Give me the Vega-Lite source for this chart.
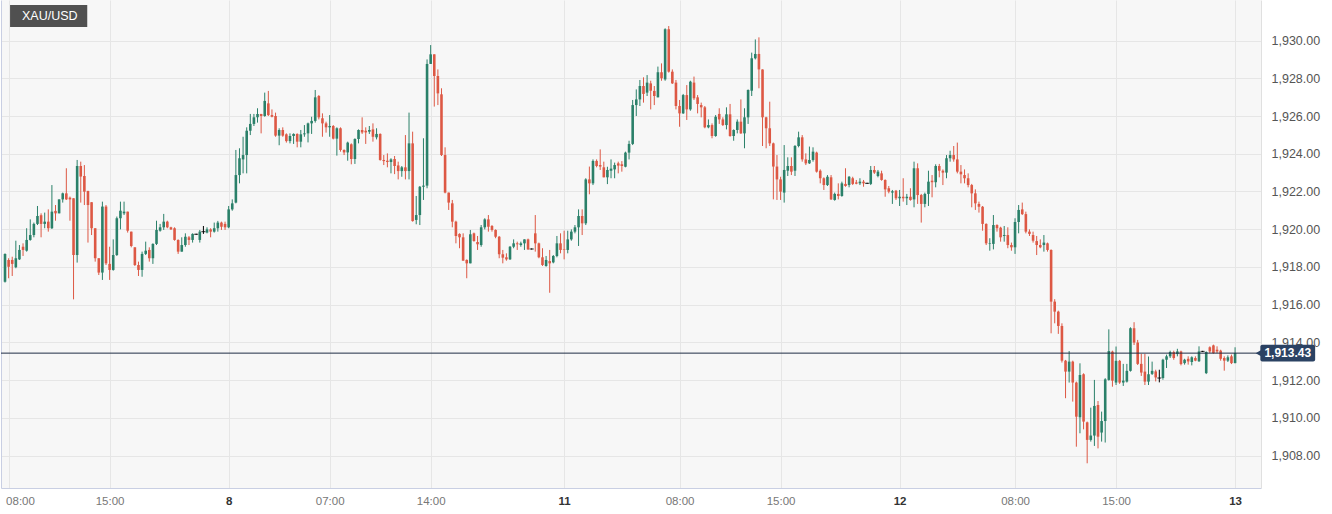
{
"$schema": "https://vega.github.io/schema/vega-lite/v6.json",
"width": 1260, "height": 488,
"autosize": {"type": "none"},
"padding": {"left": 1, "top": 0, "right": 71, "bottom": 26},
"background": "#ffffff",
"config": {"view": {"fill": "#f7f7f7", "stroke": null}, "font": "Liberation Sans"},
"datasets": {"candles": [
{"i":0,"o":1917.22,"h":1918.72,"l":1917.17,"c":1918.69},
{"i":1,"o":1918.37,"h":1918.46,"l":1917.40,"c":1918.01},
{"i":2,"o":1918.37,"h":1918.54,"l":1917.52,"c":1918.16},
{"i":3,"o":1917.98,"h":1919.39,"l":1917.93,"c":1918.46},
{"i":4,"o":1918.40,"h":1919.16,"l":1918.37,"c":1918.90},
{"i":5,"o":1919.07,"h":1919.25,"l":1918.58,"c":1918.90},
{"i":6,"o":1918.86,"h":1920.05,"l":1918.81,"c":1919.43},
{"i":7,"o":1919.43,"h":1920.52,"l":1919.39,"c":1919.69},
{"i":8,"o":1919.69,"h":1920.35,"l":1919.57,"c":1920.28},
{"i":9,"o":1920.28,"h":1921.23,"l":1920.22,"c":1920.70},
{"i":10,"o":1920.74,"h":1920.84,"l":1919.57,"c":1920.28},
{"i":11,"o":1920.28,"h":1920.88,"l":1920.05,"c":1920.40},
{"i":12,"o":1920.40,"h":1921.05,"l":1919.87,"c":1920.05},
{"i":13,"o":1920.05,"h":1922.34,"l":1920.01,"c":1920.93},
{"i":14,"o":1920.97,"h":1921.28,"l":1920.45,"c":1920.84},
{"i":15,"o":1920.84,"h":1921.58,"l":1920.84,"c":1921.58},
{"i":16,"o":1921.58,"h":1921.94,"l":1921.41,"c":1921.90},
{"i":17,"o":1921.90,"h":1923.23,"l":1921.55,"c":1921.58},
{"i":18,"o":1921.67,"h":1921.73,"l":1920.45,"c":1921.58},
{"i":19,"o":1921.64,"h":1921.64,"l":1916.28,"c":1918.63},
{"i":20,"o":1918.63,"h":1923.67,"l":1918.23,"c":1923.35},
{"i":21,"o":1923.35,"h":1923.58,"l":1921.41,"c":1922.79},
{"i":22,"o":1922.82,"h":1923.40,"l":1921.28,"c":1921.99},
{"i":23,"o":1922.03,"h":1922.03,"l":1919.29,"c":1921.28},
{"i":24,"o":1921.43,"h":1921.43,"l":1919.69,"c":1920.05},
{"i":25,"o":1920.05,"h":1920.05,"l":1918.28,"c":1918.46},
{"i":26,"o":1918.46,"h":1918.46,"l":1917.57,"c":1917.70},
{"i":27,"o":1917.70,"h":1921.46,"l":1917.31,"c":1921.20},
{"i":28,"o":1921.20,"h":1921.28,"l":1918.10,"c":1918.19},
{"i":29,"o":1918.16,"h":1919.07,"l":1917.31,"c":1917.84},
{"i":30,"o":1917.84,"h":1919.46,"l":1917.80,"c":1918.63},
{"i":31,"o":1918.63,"h":1920.67,"l":1918.58,"c":1920.58},
{"i":32,"o":1920.58,"h":1921.46,"l":1919.99,"c":1920.98},
{"i":33,"o":1920.84,"h":1921.46,"l":1920.75,"c":1920.93},
{"i":34,"o":1920.93,"h":1920.93,"l":1919.82,"c":1919.92},
{"i":35,"o":1919.87,"h":1919.87,"l":1919.04,"c":1919.11},
{"i":36,"o":1919.04,"h":1919.04,"l":1918.05,"c":1918.10},
{"i":37,"o":1918.10,"h":1918.28,"l":1917.52,"c":1917.84},
{"i":38,"o":1917.84,"h":1918.81,"l":1917.48,"c":1918.69},
{"i":39,"o":1918.69,"h":1919.34,"l":1918.63,"c":1918.86},
{"i":40,"o":1918.90,"h":1919.04,"l":1918.28,"c":1918.46},
{"i":41,"o":1918.46,"h":1919.25,"l":1918.16,"c":1919.22},
{"i":42,"o":1919.22,"h":1920.45,"l":1919.16,"c":1919.96},
{"i":43,"o":1919.92,"h":1920.28,"l":1919.87,"c":1920.10},
{"i":44,"o":1920.10,"h":1920.81,"l":1919.96,"c":1920.40},
{"i":45,"o":1920.40,"h":1920.45,"l":1920.05,"c":1920.10},
{"i":46,"o":1920.10,"h":1920.13,"l":1919.96,"c":1919.99},
{"i":47,"o":1920.05,"h":1920.10,"l":1919.39,"c":1919.43},
{"i":48,"o":1919.43,"h":1919.46,"l":1918.69,"c":1918.81},
{"i":49,"o":1918.81,"h":1919.57,"l":1918.81,"c":1919.16},
{"i":50,"o":1919.16,"h":1919.78,"l":1919.07,"c":1919.60},
{"i":51,"o":1919.57,"h":1919.64,"l":1919.16,"c":1919.43},
{"i":52,"o":1919.43,"h":1919.78,"l":1919.29,"c":1919.75},
{"i":53,"o":1919.73,"h":1919.76,"l":1919.70,"c":1919.73},
{"i":54,"o":1919.43,"h":1919.96,"l":1919.29,"c":1919.87},
{"i":55,"o":1919.87,"h":1920.17,"l":1919.75,"c":1919.87},
{"i":56,"o":1919.82,"h":1920.10,"l":1919.78,"c":1919.99},
{"i":57,"o":1919.99,"h":1920.05,"l":1919.57,"c":1919.87},
{"i":58,"o":1919.87,"h":1920.35,"l":1919.82,"c":1920.05},
{"i":59,"o":1920.05,"h":1920.44,"l":1919.87,"c":1920.35},
{"i":60,"o":1920.35,"h":1920.40,"l":1919.96,"c":1920.13},
{"i":61,"o":1920.28,"h":1920.40,"l":1919.96,"c":1920.10},
{"i":62,"o":1920.10,"h":1921.23,"l":1920.05,"c":1921.05},
{"i":63,"o":1921.05,"h":1921.58,"l":1920.98,"c":1921.37},
{"i":64,"o":1921.41,"h":1924.20,"l":1921.37,"c":1922.87},
{"i":65,"o":1922.87,"h":1924.29,"l":1922.43,"c":1923.76},
{"i":66,"o":1923.70,"h":1924.90,"l":1922.96,"c":1923.93},
{"i":67,"o":1923.93,"h":1925.40,"l":1922.96,"c":1925.22},
{"i":68,"o":1925.22,"h":1926.11,"l":1924.99,"c":1925.58},
{"i":69,"o":1925.58,"h":1926.11,"l":1925.47,"c":1925.93},
{"i":70,"o":1925.93,"h":1926.41,"l":1925.65,"c":1926.11},
{"i":71,"o":1926.11,"h":1926.11,"l":1925.08,"c":1926.00},
{"i":72,"o":1926.00,"h":1927.24,"l":1925.96,"c":1926.80},
{"i":73,"o":1926.67,"h":1927.33,"l":1926.00,"c":1926.05},
{"i":74,"o":1926.05,"h":1926.35,"l":1925.93,"c":1925.96},
{"i":75,"o":1926.00,"h":1926.18,"l":1924.90,"c":1924.96},
{"i":76,"o":1924.96,"h":1925.35,"l":1924.45,"c":1925.26},
{"i":77,"o":1925.26,"h":1925.40,"l":1924.90,"c":1924.96},
{"i":78,"o":1925.03,"h":1925.08,"l":1924.59,"c":1924.67},
{"i":79,"o":1924.67,"h":1925.08,"l":1924.55,"c":1924.94},
{"i":80,"o":1924.94,"h":1925.08,"l":1924.52,"c":1925.05},
{"i":81,"o":1925.05,"h":1925.08,"l":1924.34,"c":1924.64},
{"i":82,"o":1924.64,"h":1925.26,"l":1924.34,"c":1925.03},
{"i":83,"o":1925.03,"h":1925.52,"l":1924.90,"c":1925.08},
{"i":84,"o":1925.08,"h":1925.65,"l":1924.60,"c":1925.61},
{"i":85,"o":1925.61,"h":1925.96,"l":1925.05,"c":1925.74},
{"i":86,"o":1925.74,"h":1927.38,"l":1925.65,"c":1926.99},
{"i":87,"o":1927.06,"h":1927.11,"l":1925.82,"c":1925.93},
{"i":88,"o":1925.88,"h":1926.14,"l":1924.90,"c":1925.61},
{"i":89,"o":1925.61,"h":1925.70,"l":1925.12,"c":1925.40},
{"i":90,"o":1925.40,"h":1926.05,"l":1924.90,"c":1925.47},
{"i":91,"o":1925.47,"h":1925.52,"l":1924.76,"c":1924.80},
{"i":92,"o":1924.80,"h":1925.40,"l":1923.90,"c":1925.35},
{"i":93,"o":1925.35,"h":1925.40,"l":1924.11,"c":1924.20},
{"i":94,"o":1924.20,"h":1924.23,"l":1923.93,"c":1924.07},
{"i":95,"o":1924.07,"h":1924.64,"l":1923.63,"c":1924.59},
{"i":96,"o":1924.50,"h":1924.55,"l":1923.44,"c":1923.72},
{"i":97,"o":1923.72,"h":1924.82,"l":1923.46,"c":1924.78},
{"i":98,"o":1924.78,"h":1925.29,"l":1924.55,"c":1925.26},
{"i":99,"o":1925.26,"h":1925.93,"l":1925.05,"c":1925.13},
{"i":100,"o":1925.22,"h":1925.40,"l":1924.52,"c":1925.13},
{"i":101,"o":1925.17,"h":1925.47,"l":1925.05,"c":1925.26},
{"i":102,"o":1925.29,"h":1925.61,"l":1924.64,"c":1924.90},
{"i":103,"o":1924.87,"h":1925.35,"l":1924.76,"c":1925.05},
{"i":104,"o":1925.05,"h":1925.08,"l":1923.63,"c":1923.67},
{"i":105,"o":1923.67,"h":1923.93,"l":1923.40,"c":1923.61},
{"i":106,"o":1923.63,"h":1924.02,"l":1923.28,"c":1923.56},
{"i":107,"o":1923.56,"h":1923.76,"l":1922.96,"c":1923.70},
{"i":108,"o":1923.72,"h":1923.88,"l":1922.92,"c":1923.35},
{"i":109,"o":1923.38,"h":1923.58,"l":1922.64,"c":1923.08},
{"i":110,"o":1923.08,"h":1923.35,"l":1922.78,"c":1923.28},
{"i":111,"o":1923.28,"h":1924.99,"l":1922.64,"c":1923.08},
{"i":112,"o":1923.08,"h":1926.18,"l":1922.64,"c":1924.55},
{"i":113,"o":1924.55,"h":1925.17,"l":1920.40,"c":1920.43},
{"i":114,"o":1920.49,"h":1921.76,"l":1920.26,"c":1920.75},
{"i":115,"o":1920.75,"h":1922.29,"l":1920.22,"c":1922.25},
{"i":116,"o":1922.25,"h":1924.82,"l":1921.55,"c":1922.31},
{"i":117,"o":1922.31,"h":1929.00,"l":1922.17,"c":1928.76},
{"i":118,"o":1928.76,"h":1929.76,"l":1928.76,"c":1929.27},
{"i":119,"o":1929.27,"h":1929.27,"l":1926.50,"c":1928.12},
{"i":120,"o":1928.12,"h":1928.47,"l":1926.58,"c":1927.20},
{"i":121,"o":1927.15,"h":1927.47,"l":1923.88,"c":1923.93},
{"i":122,"o":1923.93,"h":1924.34,"l":1921.90,"c":1921.94},
{"i":123,"o":1921.94,"h":1921.94,"l":1921.02,"c":1921.41},
{"i":124,"o":1921.37,"h":1921.55,"l":1920.10,"c":1920.40},
{"i":125,"o":1920.40,"h":1920.45,"l":1919.25,"c":1919.64},
{"i":126,"o":1919.75,"h":1919.78,"l":1918.99,"c":1919.57},
{"i":127,"o":1919.57,"h":1919.78,"l":1918.33,"c":1918.33},
{"i":128,"o":1918.37,"h":1918.40,"l":1917.40,"c":1918.19},
{"i":129,"o":1918.19,"h":1919.96,"l":1918.19,"c":1919.73},
{"i":130,"o":1919.78,"h":1919.82,"l":1919.34,"c":1919.37},
{"i":131,"o":1919.32,"h":1919.64,"l":1918.90,"c":1919.20},
{"i":132,"o":1919.16,"h":1920.22,"l":1919.07,"c":1920.10},
{"i":133,"o":1920.10,"h":1920.58,"l":1919.99,"c":1920.52},
{"i":134,"o":1920.52,"h":1920.75,"l":1919.87,"c":1920.13},
{"i":135,"o":1920.17,"h":1920.22,"l":1919.87,"c":1919.96},
{"i":136,"o":1919.96,"h":1919.99,"l":1919.52,"c":1919.60},
{"i":137,"o":1919.60,"h":1919.64,"l":1918.46,"c":1918.67},
{"i":138,"o":1918.67,"h":1918.90,"l":1918.19,"c":1918.49},
{"i":139,"o":1918.51,"h":1918.72,"l":1918.33,"c":1918.40},
{"i":140,"o":1918.40,"h":1919.11,"l":1918.37,"c":1919.07},
{"i":141,"o":1919.07,"h":1919.46,"l":1918.99,"c":1919.25},
{"i":142,"o":1919.25,"h":1919.34,"l":1918.90,"c":1919.20},
{"i":143,"o":1919.16,"h":1919.34,"l":1919.07,"c":1919.25},
{"i":144,"o":1919.25,"h":1919.46,"l":1918.90,"c":1919.46},
{"i":145,"o":1919.46,"h":1919.50,"l":1918.90,"c":1918.93},
{"i":146,"o":1918.95,"h":1918.98,"l":1918.92,"c":1918.95},
{"i":147,"o":1919.78,"h":1920.75,"l":1918.81,"c":1919.25},
{"i":148,"o":1919.25,"h":1919.29,"l":1918.46,"c":1918.51},
{"i":149,"o":1918.51,"h":1918.99,"l":1918.05,"c":1918.10},
{"i":150,"o":1918.05,"h":1918.58,"l":1918.01,"c":1918.37},
{"i":151,"o":1918.31,"h":1918.90,"l":1916.63,"c":1918.19},
{"i":152,"o":1918.24,"h":1918.63,"l":1918.19,"c":1918.58},
{"i":153,"o":1918.58,"h":1919.64,"l":1918.51,"c":1919.25},
{"i":154,"o":1919.25,"h":1919.78,"l":1918.72,"c":1918.90},
{"i":155,"o":1918.93,"h":1919.92,"l":1918.40,"c":1918.90},
{"i":156,"o":1918.90,"h":1919.92,"l":1918.72,"c":1919.46},
{"i":157,"o":1919.46,"h":1919.99,"l":1919.39,"c":1919.87},
{"i":158,"o":1919.87,"h":1920.22,"l":1919.78,"c":1920.10},
{"i":159,"o":1920.10,"h":1921.05,"l":1919.11,"c":1920.70},
{"i":160,"o":1920.70,"h":1921.05,"l":1919.69,"c":1920.31},
{"i":161,"o":1920.31,"h":1922.70,"l":1920.22,"c":1922.64},
{"i":162,"o":1922.64,"h":1923.32,"l":1921.85,"c":1922.43},
{"i":163,"o":1922.43,"h":1923.70,"l":1922.34,"c":1923.62},
{"i":164,"o":1923.62,"h":1923.70,"l":1923.28,"c":1923.35},
{"i":165,"o":1923.40,"h":1924.23,"l":1923.14,"c":1923.32},
{"i":166,"o":1923.28,"h":1923.58,"l":1922.75,"c":1922.75},
{"i":167,"o":1922.75,"h":1923.31,"l":1922.39,"c":1923.14},
{"i":168,"o":1923.10,"h":1923.70,"l":1922.70,"c":1923.21},
{"i":169,"o":1923.17,"h":1923.53,"l":1922.70,"c":1923.40},
{"i":170,"o":1923.49,"h":1923.58,"l":1922.96,"c":1923.37},
{"i":171,"o":1923.44,"h":1923.61,"l":1923.05,"c":1923.35},
{"i":172,"o":1923.31,"h":1924.11,"l":1923.28,"c":1924.06},
{"i":173,"o":1924.06,"h":1924.69,"l":1923.70,"c":1924.52},
{"i":174,"o":1924.52,"h":1926.85,"l":1924.46,"c":1926.58},
{"i":175,"o":1926.58,"h":1927.41,"l":1926.00,"c":1926.88},
{"i":176,"o":1926.88,"h":1927.91,"l":1926.53,"c":1927.59},
{"i":177,"o":1927.59,"h":1928.05,"l":1926.71,"c":1927.17},
{"i":178,"o":1927.24,"h":1928.17,"l":1927.06,"c":1927.77},
{"i":179,"o":1927.73,"h":1927.87,"l":1926.35,"c":1927.34},
{"i":180,"o":1927.33,"h":1927.59,"l":1926.58,"c":1927.06},
{"i":181,"o":1926.99,"h":1928.62,"l":1926.99,"c":1928.32},
{"i":182,"o":1928.32,"h":1928.79,"l":1927.87,"c":1928.00},
{"i":183,"o":1927.94,"h":1930.65,"l":1927.87,"c":1930.60},
{"i":184,"o":1930.60,"h":1930.77,"l":1928.30,"c":1928.35},
{"i":185,"o":1928.35,"h":1928.47,"l":1927.70,"c":1927.73},
{"i":186,"o":1927.77,"h":1927.91,"l":1926.35,"c":1926.53},
{"i":187,"o":1926.53,"h":1926.85,"l":1925.43,"c":1926.14},
{"i":188,"o":1926.14,"h":1927.17,"l":1926.11,"c":1927.11},
{"i":189,"o":1927.11,"h":1927.64,"l":1925.79,"c":1926.35},
{"i":190,"o":1926.35,"h":1927.87,"l":1926.28,"c":1927.82},
{"i":191,"o":1927.77,"h":1928.09,"l":1926.85,"c":1926.94},
{"i":192,"o":1926.99,"h":1927.11,"l":1926.14,"c":1926.64},
{"i":193,"o":1926.58,"h":1926.71,"l":1925.93,"c":1926.46},
{"i":194,"o":1926.46,"h":1926.53,"l":1925.35,"c":1925.40},
{"i":195,"o":1925.40,"h":1925.82,"l":1925.35,"c":1925.52},
{"i":196,"o":1925.52,"h":1925.61,"l":1924.82,"c":1924.94},
{"i":197,"o":1924.94,"h":1926.05,"l":1924.90,"c":1925.96},
{"i":198,"o":1926.11,"h":1926.41,"l":1925.58,"c":1925.82},
{"i":199,"o":1925.82,"h":1925.93,"l":1925.47,"c":1925.52},
{"i":200,"o":1925.52,"h":1926.46,"l":1925.29,"c":1926.09},
{"i":201,"o":1926.09,"h":1926.64,"l":1924.90,"c":1924.94},
{"i":202,"o":1924.94,"h":1925.29,"l":1924.69,"c":1925.26},
{"i":203,"o":1925.26,"h":1925.82,"l":1925.08,"c":1925.70},
{"i":204,"o":1925.70,"h":1926.88,"l":1925.05,"c":1925.08},
{"i":205,"o":1925.08,"h":1926.41,"l":1924.29,"c":1925.93},
{"i":206,"o":1925.93,"h":1927.41,"l":1925.58,"c":1927.38},
{"i":207,"o":1927.34,"h":1929.36,"l":1927.06,"c":1929.06},
{"i":208,"o":1929.06,"h":1930.06,"l":1929.00,"c":1929.29},
{"i":209,"o":1929.29,"h":1930.17,"l":1927.47,"c":1928.47},
{"i":210,"o":1928.47,"h":1928.47,"l":1924.41,"c":1925.93},
{"i":211,"o":1925.93,"h":1925.96,"l":1924.29,"c":1925.35},
{"i":212,"o":1925.35,"h":1926.76,"l":1924.41,"c":1924.55},
{"i":213,"o":1924.55,"h":1924.59,"l":1921.58,"c":1923.32},
{"i":214,"o":1923.32,"h":1923.93,"l":1921.55,"c":1922.64},
{"i":215,"o":1922.64,"h":1922.78,"l":1921.55,"c":1921.99},
{"i":216,"o":1921.94,"h":1924.46,"l":1921.41,"c":1923.14},
{"i":217,"o":1923.10,"h":1923.81,"l":1922.82,"c":1923.35},
{"i":218,"o":1923.35,"h":1923.81,"l":1922.87,"c":1923.05},
{"i":219,"o":1923.10,"h":1924.46,"l":1922.82,"c":1924.41},
{"i":220,"o":1924.41,"h":1925.17,"l":1924.34,"c":1924.87},
{"i":221,"o":1924.87,"h":1924.99,"l":1923.58,"c":1923.70},
{"i":222,"o":1923.70,"h":1924.02,"l":1923.40,"c":1923.49},
{"i":223,"o":1923.49,"h":1924.38,"l":1923.46,"c":1923.67},
{"i":224,"o":1923.67,"h":1924.34,"l":1923.58,"c":1924.11},
{"i":225,"o":1924.06,"h":1924.11,"l":1923.00,"c":1923.05},
{"i":226,"o":1923.10,"h":1923.17,"l":1922.43,"c":1922.70},
{"i":227,"o":1922.70,"h":1922.75,"l":1922.08,"c":1922.34},
{"i":228,"o":1922.34,"h":1922.87,"l":1922.29,"c":1922.78},
{"i":229,"o":1922.75,"h":1922.87,"l":1921.55,"c":1921.58},
{"i":230,"o":1921.55,"h":1921.94,"l":1921.51,"c":1921.87},
{"i":231,"o":1921.87,"h":1922.43,"l":1921.58,"c":1921.76},
{"i":232,"o":1921.76,"h":1922.52,"l":1921.72,"c":1922.43},
{"i":233,"o":1922.40,"h":1923.23,"l":1922.25,"c":1922.29},
{"i":234,"o":1922.34,"h":1922.82,"l":1922.22,"c":1922.78},
{"i":235,"o":1922.70,"h":1922.78,"l":1922.34,"c":1922.40},
{"i":236,"o":1922.48,"h":1922.61,"l":1922.38,"c":1922.41},
{"i":237,"o":1922.43,"h":1922.70,"l":1922.34,"c":1922.52},
{"i":238,"o":1922.52,"h":1922.61,"l":1922.25,"c":1922.43},
{"i":239,"o":1922.43,"h":1922.46,"l":1922.40,"c":1922.43},
{"i":240,"o":1922.40,"h":1923.35,"l":1922.34,"c":1923.14},
{"i":241,"o":1923.14,"h":1923.35,"l":1922.93,"c":1923.00},
{"i":242,"o":1922.82,"h":1923.14,"l":1922.75,"c":1923.05},
{"i":243,"o":1922.96,"h":1923.10,"l":1922.57,"c":1922.61},
{"i":244,"o":1922.61,"h":1922.64,"l":1921.72,"c":1922.11},
{"i":245,"o":1922.17,"h":1922.29,"l":1921.90,"c":1921.99},
{"i":246,"o":1921.94,"h":1922.08,"l":1921.34,"c":1922.01},
{"i":247,"o":1922.04,"h":1922.08,"l":1921.55,"c":1921.64},
{"i":248,"o":1921.64,"h":1922.08,"l":1921.23,"c":1921.72},
{"i":249,"o":1921.72,"h":1922.70,"l":1921.46,"c":1921.64},
{"i":250,"o":1921.64,"h":1921.87,"l":1921.28,"c":1921.72},
{"i":251,"o":1921.72,"h":1922.17,"l":1921.51,"c":1921.55},
{"i":252,"o":1921.58,"h":1923.58,"l":1921.16,"c":1923.23},
{"i":253,"o":1923.23,"h":1923.49,"l":1921.34,"c":1921.81},
{"i":254,"o":1921.81,"h":1921.87,"l":1920.35,"c":1921.34},
{"i":255,"o":1921.34,"h":1921.94,"l":1921.16,"c":1921.87},
{"i":256,"o":1921.87,"h":1923.10,"l":1921.23,"c":1922.52},
{"i":257,"o":1922.57,"h":1922.87,"l":1921.69,"c":1922.49},
{"i":258,"o":1922.49,"h":1923.44,"l":1922.22,"c":1923.35},
{"i":259,"o":1923.35,"h":1923.46,"l":1922.75,"c":1923.10},
{"i":260,"o":1923.10,"h":1923.17,"l":1922.34,"c":1923.00},
{"i":261,"o":1923.00,"h":1923.93,"l":1922.70,"c":1923.76},
{"i":262,"o":1923.76,"h":1924.16,"l":1923.58,"c":1923.93},
{"i":263,"o":1923.93,"h":1924.41,"l":1923.58,"c":1923.70},
{"i":264,"o":1923.70,"h":1924.59,"l":1922.96,"c":1923.05},
{"i":265,"o":1923.05,"h":1923.40,"l":1922.43,"c":1922.91},
{"i":266,"o":1922.87,"h":1923.17,"l":1922.43,"c":1922.70},
{"i":267,"o":1922.70,"h":1922.96,"l":1922.22,"c":1922.34},
{"i":268,"o":1922.34,"h":1922.40,"l":1921.16,"c":1921.90},
{"i":269,"o":1921.90,"h":1922.11,"l":1921.02,"c":1921.37},
{"i":270,"o":1921.34,"h":1921.46,"l":1920.88,"c":1921.19},
{"i":271,"o":1921.19,"h":1921.23,"l":1919.92,"c":1920.28},
{"i":272,"o":1920.28,"h":1920.31,"l":1919.16,"c":1919.25},
{"i":273,"o":1919.22,"h":1919.52,"l":1918.86,"c":1919.25},
{"i":274,"o":1919.22,"h":1920.75,"l":1918.93,"c":1920.22},
{"i":275,"o":1920.22,"h":1920.26,"l":1919.87,"c":1920.05},
{"i":276,"o":1920.08,"h":1920.13,"l":1919.34,"c":1919.57},
{"i":277,"o":1919.64,"h":1920.17,"l":1919.34,"c":1919.69},
{"i":278,"o":1919.69,"h":1920.10,"l":1918.99,"c":1919.16},
{"i":279,"o":1919.16,"h":1919.29,"l":1918.86,"c":1919.04},
{"i":280,"o":1919.04,"h":1920.58,"l":1918.69,"c":1920.38},
{"i":281,"o":1920.38,"h":1921.28,"l":1919.78,"c":1921.02},
{"i":282,"o":1921.05,"h":1921.41,"l":1920.75,"c":1920.80},
{"i":283,"o":1920.80,"h":1920.93,"l":1919.78,"c":1919.87},
{"i":284,"o":1919.87,"h":1919.99,"l":1919.64,"c":1919.75},
{"i":285,"o":1919.69,"h":1919.87,"l":1919.29,"c":1919.39},
{"i":286,"o":1919.37,"h":1919.64,"l":1918.63,"c":1919.16},
{"i":287,"o":1919.16,"h":1919.46,"l":1918.99,"c":1919.04},
{"i":288,"o":1919.16,"h":1919.69,"l":1918.81,"c":1919.29},
{"i":289,"o":1919.25,"h":1919.29,"l":1918.81,"c":1918.90},
{"i":290,"o":1918.90,"h":1918.93,"l":1914.48,"c":1916.16},
{"i":291,"o":1916.16,"h":1916.29,"l":1915.01,"c":1915.63},
{"i":292,"o":1915.63,"h":1915.68,"l":1914.45,"c":1914.87},
{"i":293,"o":1914.87,"h":1915.01,"l":1912.93,"c":1913.03},
{"i":294,"o":1913.03,"h":1913.07,"l":1911.04,"c":1912.45},
{"i":295,"o":1912.45,"h":1913.54,"l":1911.87,"c":1912.98},
{"i":296,"o":1912.98,"h":1913.03,"l":1910.86,"c":1911.87},
{"i":297,"o":1911.87,"h":1911.92,"l":1908.47,"c":1910.06},
{"i":298,"o":1910.03,"h":1912.89,"l":1909.18,"c":1912.27},
{"i":299,"o":1912.31,"h":1912.36,"l":1909.39,"c":1909.80},
{"i":300,"o":1909.76,"h":1909.80,"l":1907.59,"c":1908.83},
{"i":301,"o":1908.83,"h":1910.54,"l":1908.74,"c":1909.06},
{"i":302,"o":1909.06,"h":1912.01,"l":1908.51,"c":1910.63},
{"i":303,"o":1910.68,"h":1910.89,"l":1908.38,"c":1909.00},
{"i":304,"o":1909.22,"h":1910.33,"l":1908.74,"c":1909.83},
{"i":305,"o":1909.83,"h":1912.10,"l":1908.69,"c":1912.04},
{"i":306,"o":1912.01,"h":1914.69,"l":1911.97,"c":1913.54},
{"i":307,"o":1913.51,"h":1913.56,"l":1911.65,"c":1911.97},
{"i":308,"o":1911.87,"h":1913.78,"l":1911.74,"c":1913.02},
{"i":309,"o":1913.02,"h":1913.07,"l":1911.80,"c":1911.87},
{"i":310,"o":1911.87,"h":1912.86,"l":1911.69,"c":1911.97},
{"i":311,"o":1911.92,"h":1912.86,"l":1911.87,"c":1912.49},
{"i":312,"o":1912.49,"h":1914.80,"l":1912.45,"c":1914.75},
{"i":313,"o":1914.75,"h":1915.07,"l":1913.86,"c":1913.99},
{"i":314,"o":1913.99,"h":1914.13,"l":1912.80,"c":1912.86},
{"i":315,"o":1912.86,"h":1913.39,"l":1912.22,"c":1912.40},
{"i":316,"o":1912.45,"h":1913.39,"l":1911.74,"c":1911.92},
{"i":317,"o":1911.92,"h":1913.25,"l":1911.74,"c":1912.31},
{"i":318,"o":1912.33,"h":1912.98,"l":1912.27,"c":1912.49},
{"i":319,"o":1912.46,"h":1912.55,"l":1911.93,"c":1912.14},
{"i":320,"o":1912.11,"h":1912.55,"l":1911.88,"c":1912.11},
{"i":321,"o":1912.11,"h":1913.13,"l":1912.02,"c":1913.08},
{"i":322,"o":1913.08,"h":1913.35,"l":1912.64,"c":1913.26},
{"i":323,"o":1913.26,"h":1913.56,"l":1913.17,"c":1913.49},
{"i":324,"o":1913.49,"h":1913.56,"l":1913.08,"c":1913.17},
{"i":325,"o":1913.38,"h":1913.66,"l":1913.26,"c":1913.52},
{"i":326,"o":1913.52,"h":1913.56,"l":1912.78,"c":1912.85},
{"i":327,"o":1912.90,"h":1913.13,"l":1912.82,"c":1913.08},
{"i":328,"o":1913.13,"h":1913.26,"l":1912.82,"c":1912.99},
{"i":329,"o":1912.96,"h":1913.26,"l":1912.78,"c":1913.21},
{"i":330,"o":1913.17,"h":1913.26,"l":1913.00,"c":1913.03},
{"i":331,"o":1913.00,"h":1913.79,"l":1912.96,"c":1913.52},
{"i":332,"o":1913.52,"h":1913.55,"l":1913.49,"c":1913.52},
{"i":333,"o":1912.37,"h":1913.52,"l":1912.32,"c":1913.49},
{"i":334,"o":1913.74,"h":1913.79,"l":1913.43,"c":1913.52},
{"i":335,"o":1913.84,"h":1913.88,"l":1913.40,"c":1913.43},
{"i":336,"o":1913.61,"h":1913.79,"l":1913.43,"c":1913.52},
{"i":337,"o":1913.56,"h":1913.61,"l":1913.03,"c":1913.13},
{"i":338,"o":1913.17,"h":1913.26,"l":1912.50,"c":1913.03},
{"i":339,"o":1913.03,"h":1913.31,"l":1912.96,"c":1913.21},
{"i":340,"o":1913.26,"h":1913.35,"l":1912.85,"c":1912.90},
{"i":341,"o":1912.90,"h":1913.74,"l":1912.89,"c":1913.43}
],
"one": [{"p": 1913.43}]},
"layer": [
{
"data": {"name": "candles"},
"mark": {"type": "rule", "strokeWidth": 1, "clip": true},
"encoding": {
"x": {"field": "i", "type": "quantitative", "scale": {"domain": [0.275, 346.8], "nice": false, "zero": false},
"axis": {"values": [1, 29, 62, 90, 118, 155, 187, 215, 248, 280, 308, 341],
"labelExpr": "datum.value < 10 ? '08:00' : datum.value < 40 ? '15:00' : datum.value < 70 ? '8' : datum.value < 100 ? '07:00' : datum.value < 130 ? '14:00' : datum.value < 170 ? '11' : datum.value < 200 ? '08:00' : datum.value < 230 ? '15:00' : datum.value < 260 ? '12' : datum.value < 290 ? '08:00' : datum.value < 320 ? '15:00' : '13'",
"grid": true, "gridColor": "#e6e6e6", "gridWidth": 1, "ticks": false, "domain": true, "domainColor": "#c9cfe3",
"labelColor": {"condition": {"test": "datum.value == 62 || datum.value == 155 || datum.value == 248 || datum.value == 341", "value": "#333333"}, "value": "#777777"},
"labelFontWeight": {"condition": {"test": "datum.value == 62 || datum.value == 155 || datum.value == 248 || datum.value == 341", "value": "bold"}, "value": "normal"},
"labelAlign": {"condition": {"test": "datum.value < 5", "value": "left"}, "value": "center"},
"labelOffset": {"condition": {"test": "datum.value < 5", "value": -3}, "value": 0},
"labelFontSize": 11.5, "labelFont": "Liberation Sans", "labelPadding": 7, "labelBound": false, "title": null}},
"y": {"field": "l", "type": "quantitative", "scale": {"domain": [1906.28, 1932.15], "nice": false, "zero": false},
"axis": {"orient": "right", "values": [1908, 1910, 1912, 1914, 1916, 1918, 1920, 1922, 1924, 1926, 1928, 1930], "format": ",.2f",
"grid": true, "gridColor": "#e6e6e6", "gridWidth": 1, "ticks": false, "domain": true, "domainColor": "#e0e0e0",
"labelColor": "#555555", "labelFontSize": 12.5, "labelFont": "Liberation Sans", "labelPadding": 10, "title": null}},
"y2": {"field": "h"},
"color": {"condition": [{"test": "datum.c > datum.o", "value": "#2a8069"}, {"test": "datum.c < datum.o", "value": "#dd5844"}], "value": "#000000"}
}
},
{
"data": {"name": "candles"},
"mark": {"type": "bar", "size": 2.6, "clip": true},
"encoding": {
"x": {"field": "i", "type": "quantitative", "scale": {"domain": [0.275, 346.8], "nice": false, "zero": false}},
"y": {"field": "o", "type": "quantitative", "scale": {"domain": [1906.28, 1932.15], "nice": false, "zero": false}, "axis": null},
"y2": {"field": "c"},
"color": {"condition": [{"test": "datum.c > datum.o", "value": "#2a8069"}, {"test": "datum.c < datum.o", "value": "#dd5844"}], "value": "#000000"}
}
},
{
"data": {"name": "candles"},
"transform": [{"filter": "datum.o == datum.c"}],
"mark": {"type": "tick", "orient": "horizontal", "size": 4, "thickness": 1.2, "color": "#000000", "clip": true},
"encoding": {
"x": {"field": "i", "type": "quantitative", "scale": {"domain": [0.275, 346.8], "nice": false, "zero": false}},
"y": {"field": "o", "type": "quantitative", "scale": {"domain": [1906.28, 1932.15], "nice": false, "zero": false}, "axis": null}
}
},
{
"data": {"name": "one"},
"mark": {"type": "rule", "color": "#1f2d45", "strokeWidth": 1},
"encoding": {
"y": {"field": "p", "type": "quantitative", "scale": {"domain": [1906.28, 1932.15], "nice": false, "zero": false},
"axis": {"orient": "left", "labels": false, "ticks": false, "grid": false, "domain": true, "domainColor": "#c9cfe3", "title": null}}
}
},
{
"data": {"name": "one"},
"mark": {"type": "rect", "color": "#2b4263", "cornerRadius": 2},
"encoding": {
"x": {"datum": 348.0, "type": "quantitative", "scale": {"domain": [0.275, 346.8], "nice": false, "zero": false}},
"x2": {"datum": 363.2},
"y": {"datum": 1913.87, "type": "quantitative", "scale": {"domain": [1906.28, 1932.15], "nice": false, "zero": false}, "axis": null},
"y2": {"datum": 1912.99}
}
},
{
"data": {"name": "one"},
"mark": {"type": "point", "shape": "triangle-left", "size": 55, "filled": true, "color": "#2b4263", "opacity": 1},
"encoding": {
"x": {"datum": 347.6, "type": "quantitative", "scale": {"domain": [0.275, 346.8], "nice": false, "zero": false}},
"y": {"field": "p", "type": "quantitative", "scale": {"domain": [1906.28, 1932.15], "nice": false, "zero": false}, "axis": null}
}
},
{
"data": {"name": "one"},
"mark": {"type": "text", "color": "#ffffff", "fontWeight": "bold", "fontSize": 12, "font": "Liberation Sans", "align": "center", "baseline": "middle"},
"encoding": {
"x": {"datum": 355.6, "type": "quantitative", "scale": {"domain": [0.275, 346.8], "nice": false, "zero": false}},
"y": {"field": "p", "type": "quantitative", "scale": {"domain": [1906.28, 1932.15], "nice": false, "zero": false}, "axis": null},
"text": {"field": "p", "type": "quantitative", "format": ",.2f"}
}
},
{
"data": {"name": "one"},
"mark": {"type": "rect", "color": "#505050"},
"encoding": {
"x": {"datum": 1.4, "type": "quantitative", "scale": {"domain": [0.275, 346.8], "nice": false, "zero": false}},
"x2": {"datum": 22.8},
"y": {"datum": 1931.89, "type": "quantitative", "scale": {"domain": [1906.28, 1932.15], "nice": false, "zero": false}, "axis": null},
"y2": {"datum": 1930.72}
}
},
{
"data": {"name": "one"},
"mark": {"type": "text", "color": "#ffffff", "fontSize": 12.5, "font": "Liberation Sans", "align": "left", "baseline": "middle"},
"encoding": {
"x": {"datum": 4.7, "type": "quantitative", "scale": {"domain": [0.275, 346.8], "nice": false, "zero": false}},
"y": {"datum": 1931.3, "type": "quantitative", "scale": {"domain": [1906.28, 1932.15], "nice": false, "zero": false}, "axis": null},
"text": {"value": "XAU/USD"}
}
}
],
"resolve": {"axis": {"y": "independent"}}
}
